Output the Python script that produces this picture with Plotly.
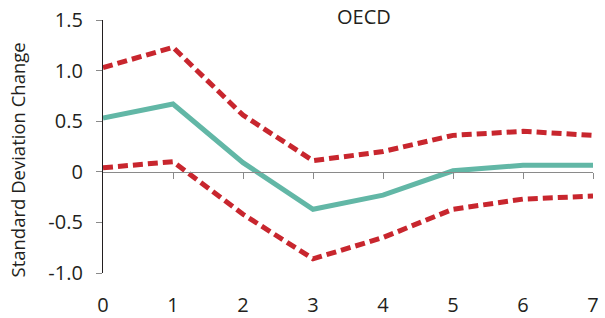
import plotly.graph_objects as go

periods = [0, 1, 2, 3, 4, 5, 6, 7]
response = [0.53, 0.67, 0.09, -0.37, -0.23, 0.01, 0.065, 0.065]
upper = [1.03, 1.23, 0.56, 0.11, 0.20, 0.36, 0.40, 0.36]
lower = [0.04, 0.10, -0.42, -0.86, -0.65, -0.37, -0.27, -0.24]
y_ticks = [-1.0, -0.5, 0, 0.5, 1.0, 1.5]
y_tick_labels = ["-1.0", "-0.5", "0", "0.5", "1.0", "1.5"]

red = "#c8262e"
teal = "#62b7a6"
font = "Open Sans"

L, R, T, B = 103, 12, 20, 45
W, H = 605, 318
PW, PH = W - L - R, H - T - B

fig = go.Figure()
fig.add_trace(go.Scatter(x=periods, y=upper, mode="lines",
                         line=dict(color=red, width=5, dash="10px,5px"), showlegend=False))
fig.add_trace(go.Scatter(x=periods, y=lower, mode="lines",
                         line=dict(color=red, width=5, dash="10px,5px"), showlegend=False))
fig.add_trace(go.Scatter(x=periods, y=response, mode="lines",
                         line=dict(color=teal, width=5), showlegend=False))
# invisible trace for the zero-axis ticks
fig.add_trace(go.Scatter(x=periods, y=[None]*len(periods), xaxis="x2", mode="lines",
                         showlegend=False, hoverinfo="skip"))

fig.update_layout(
    width=W, height=H,
    margin=dict(l=L, r=R, t=T, b=B, autoexpand=False),
    paper_bgcolor="white", plot_bgcolor="white",
    font=dict(family=font, size=20, color="#231f20"),
    xaxis=dict(range=[0, 7], tickvals=periods, showline=False, showgrid=False,
               zeroline=False, ticks="outside", ticklen=14, tickcolor="rgba(0,0,0,0)",
               tickfont=dict(size=20), automargin=False),
    xaxis2=dict(range=[0, 7], overlaying="x", anchor="free", position=0.4,
                side="bottom", showline=True, linecolor="#8a8a8a", linewidth=1.2,
                ticks="outside", ticklen=6, tickcolor="#8a8a8a", tickvals=periods[1:],
                showticklabels=False, showgrid=False, zeroline=False, automargin=False),
    yaxis=dict(range=[-1.0, 1.5], tickvals=y_ticks, ticktext=y_tick_labels,
               showline=True, linecolor="#231f20", linewidth=1.2,
               ticks="outside", ticklen=6, tickcolor="#8a8a8a",
               showgrid=False, zeroline=False, automargin=False,
               tickfont=dict(size=20), ticklabelstandoff=9),
    annotations=[
        dict(text="OECD", x=(364 - L) / PW, y=1 - (16 - T) / PH,
             xref="paper", yref="paper", yanchor="middle", xanchor="center",
             showarrow=False, font=dict(size=20)),
        dict(text="Standard Deviation Change", x=(16.5 - L) / PW, y=(T + PH - 160) / PH,
             xref="paper", yref="paper", yanchor="middle", xanchor="center",
             textangle=-90, showarrow=False, font=dict(size=18.5)),
    ],
)
fig.write_html("out.html", config={"displayModeBar": False},
               post_script="document.body.style.margin='0';document.body.style.padding='0';")
